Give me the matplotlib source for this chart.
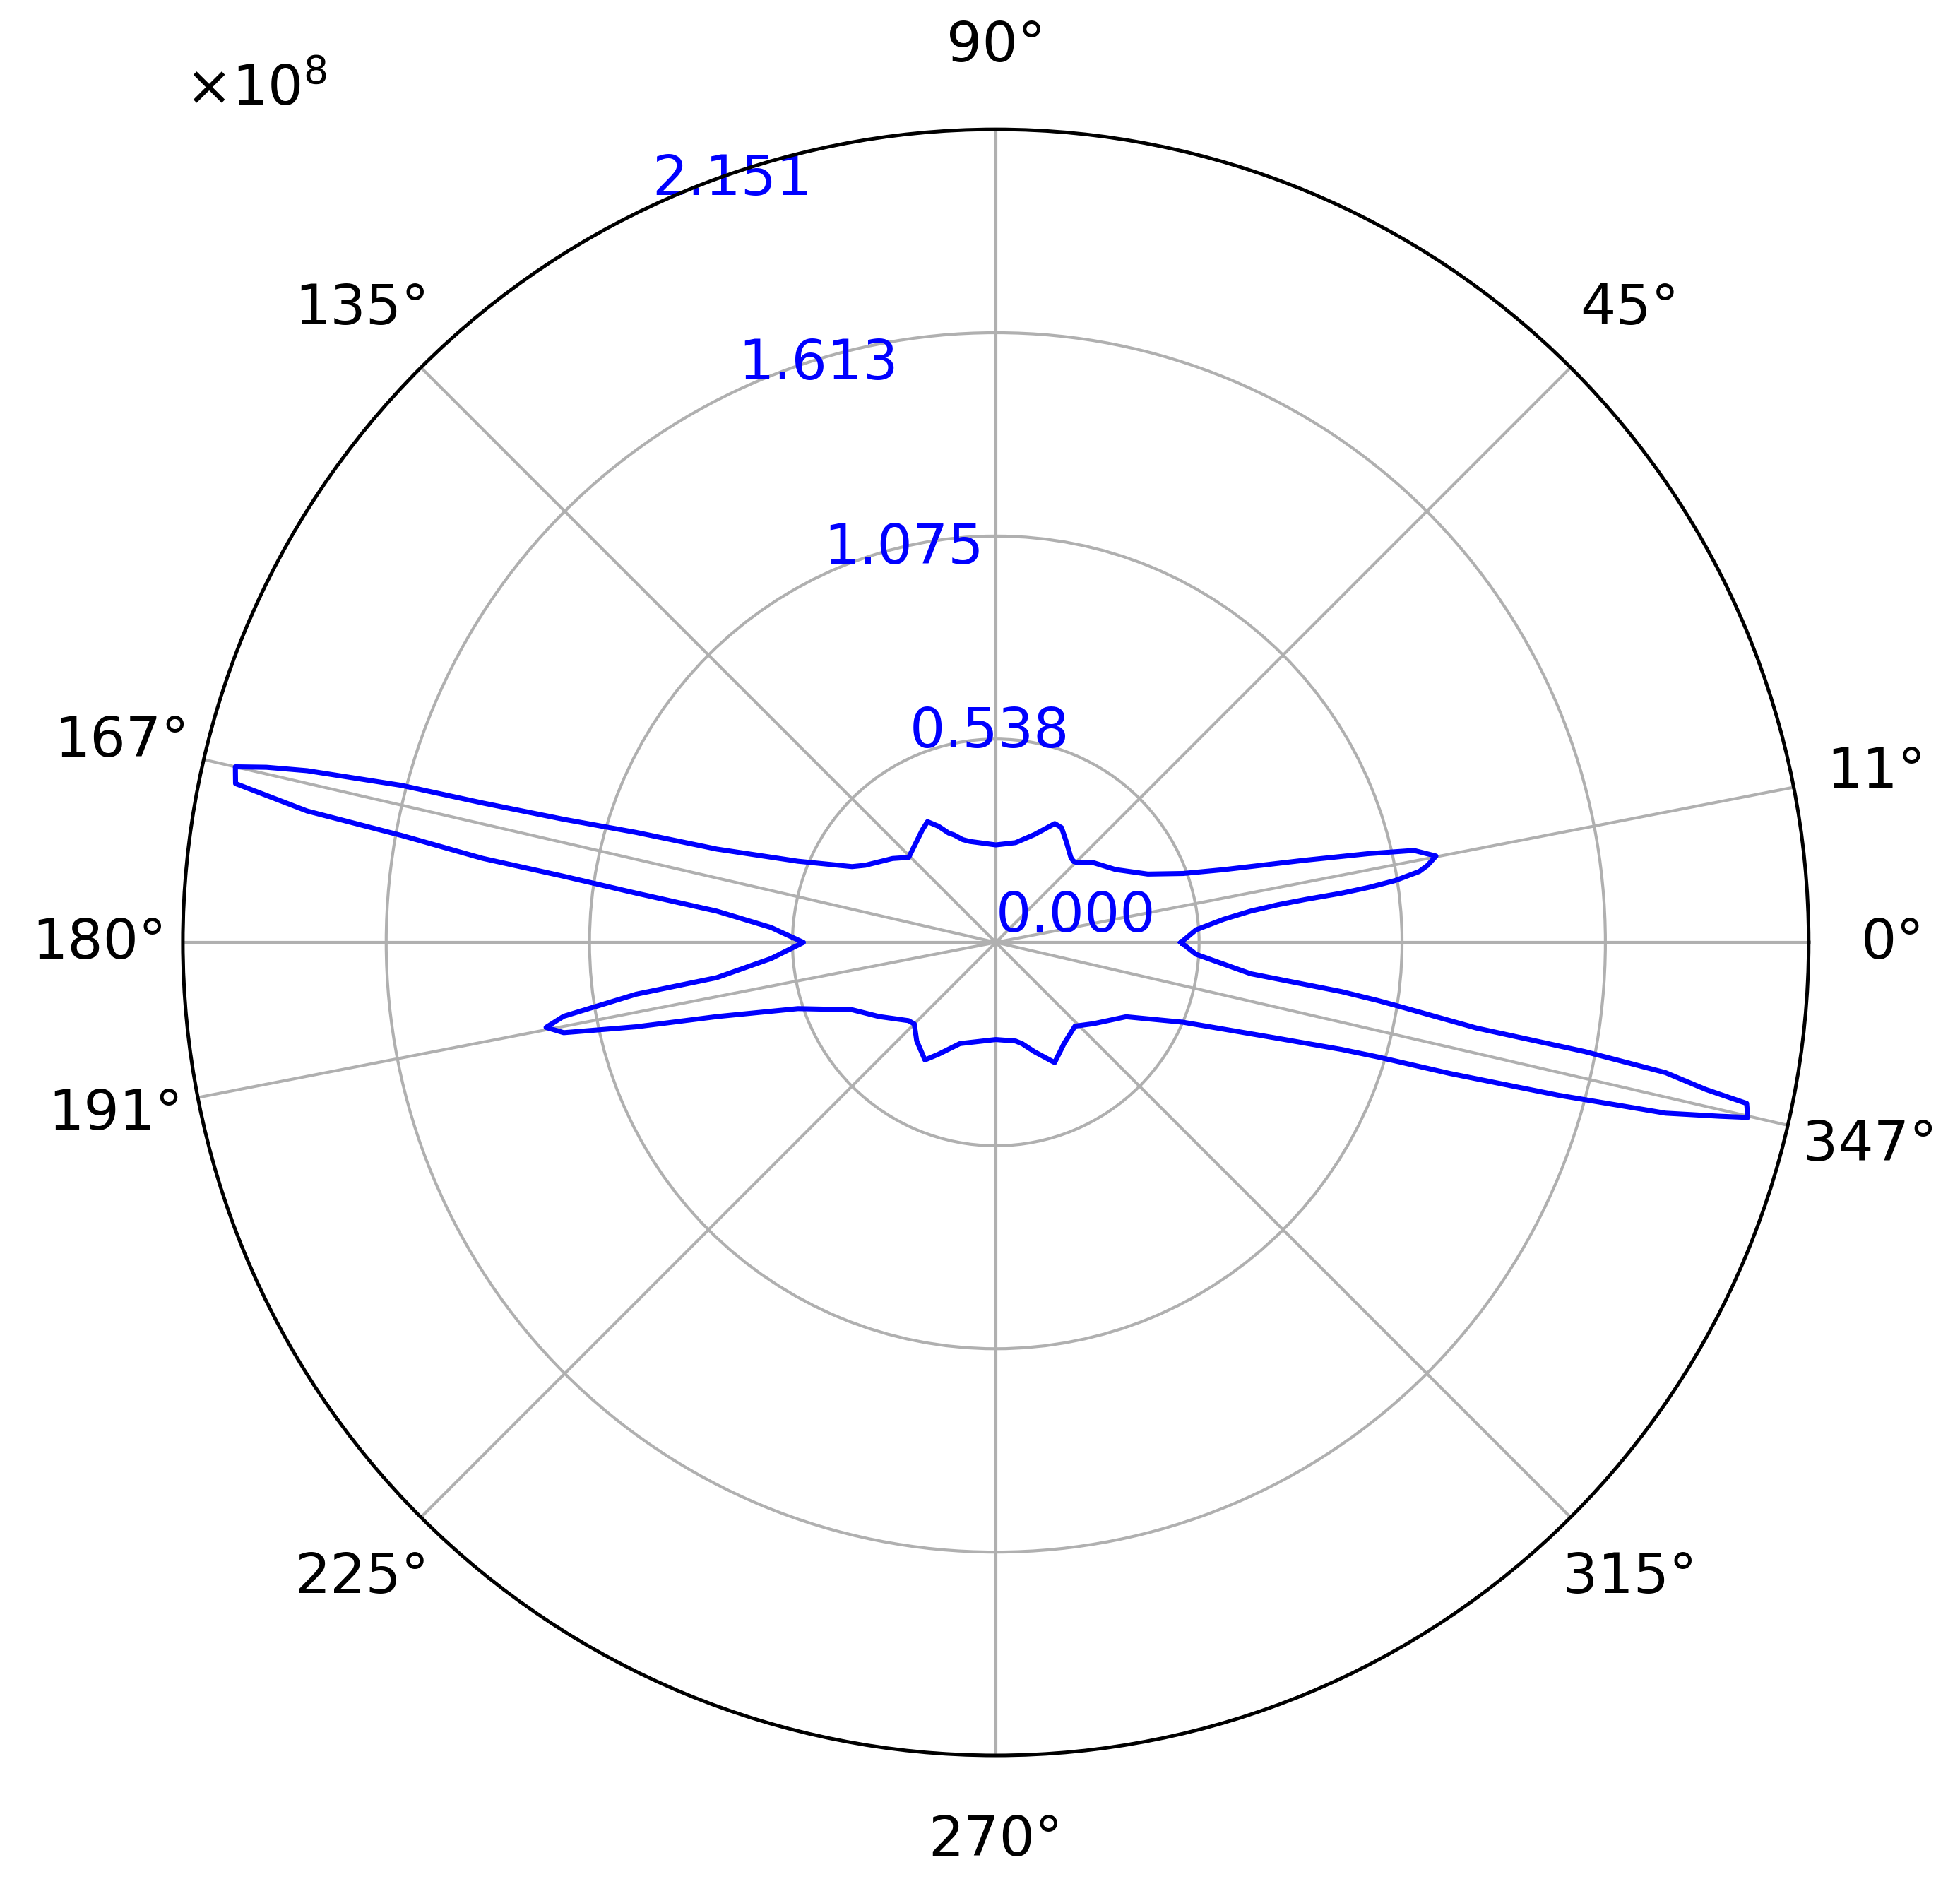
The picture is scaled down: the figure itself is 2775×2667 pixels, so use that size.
import numpy as np
import matplotlib
matplotlib.use('Agg')
import matplotlib.pyplot as plt

# polar curve: angle in degrees, radius in units of 1e8
theta_deg = [0.0, 3.6, 5.8, 7.0, 7.6, 7.9, 8.1, 8.4, 8.8, 9.5, 10.1, 11.1, 12.4, 13.4,
             14.9, 17.7, 20.2, 24.2, 31.3, 39.1, 45.0, 46.1, 48.5, 54.7, 60.2, 63.6,
             70.3, 78.8, 90.0, 104.5, 107.9, 111.2, 113.3, 116.3, 119.5, 123.3, 127.9,
             135.7, 140.9, 149.4, 152.2, 157.7, 161.5, 163.0, 164.1, 164.8, 165.2,
             166.0, 166.5, 167.0, 168.2, 169.2, 169.8, 170.7, 171.3, 172.2, 173.6,
             176.2, 180.0, 184.1, 187.2, 188.2, 189.7, 190.7, 191.8, 193.2, 194.9,
             198.5, 205.1, 212.4, 221.9, 225.0, 231.2, 238.9, 242.8, 250.5, 270.0,
             281.3, 284.6, 289.5, 296.1, 304.0, 313.4, 320.4, 330.3, 336.9, 341.2,
             342.8, 343.3, 343.9, 344.8, 345.7, 346.5, 346.9, 347.9, 348.3, 349.0,
             349.5, 349.9, 351.06, 351.37, 351.9, 353.0, 356.6, 360.0]
radius = [0.490, 0.531, 0.606, 0.679, 0.753, 0.829, 0.924, 1.000, 1.069, 1.136, 1.160,
          1.187, 1.133, 1.013, 0.845, 0.633, 0.528, 0.441, 0.371, 0.334, 0.300, 0.297,
          0.300, 0.324, 0.350, 0.351, 0.303, 0.269, 0.258, 0.276, 0.286, 0.305, 0.315,
          0.343, 0.367, 0.355, 0.340, 0.322, 0.352, 0.401, 0.430, 0.566, 0.778, 0.996,
          1.189, 1.407, 1.626, 1.878, 1.985, 2.065, 2.055, 1.855, 1.597, 1.376, 1.157,
          0.961, 0.743, 0.596, 0.509, 0.596, 0.744, 0.962, 1.160, 1.211, 1.168, 0.978,
          0.763, 0.552, 0.420, 0.366, 0.310, 0.305, 0.334, 0.363, 0.333, 0.284, 0.257,
          0.266, 0.277, 0.307, 0.354, 0.323, 0.305, 0.337, 0.397, 0.538, 0.787, 0.958,
          1.053, 1.250, 1.541, 1.829, 1.970, 2.043, 2.032, 1.919, 1.805, 1.585, 1.292,
          1.070, 1.020, 0.924, 0.679, 0.531, 0.490]

r_max = 2.151
r_ticks = [0.000, 0.538, 1.075, 1.613, 2.151]
theta_ticks = [0, 11, 45, 90, 135, 167, 180, 191, 225, 270, 315, 347]

fig = plt.figure(figsize=(9.25, 8.8933), dpi=300)
ax = fig.add_axes([0.0933, 0.0682, 0.8295, 0.8628], projection='polar')

ax.plot(np.deg2rad(theta_deg), radius, color='blue', lw=1.7, solid_joinstyle='round')

ax.set_ylim(0, r_max)
ax.set_yticks(r_ticks)
ax.set_yticklabels([f'{v:.3f}' for v in r_ticks], color='blue', fontsize=19)
ax.set_rlabel_position(115)

ax.set_xticks(np.deg2rad(theta_ticks))
ax.set_xticklabels([f'{t}°' for t in theta_ticks], fontsize=19)
ax.tick_params(axis='x', pad=18)

ax.grid(True, color='#b0b0b0', lw=1.0)
ax.spines['polar'].set_linewidth(1.2)

fig.text(0.0944, 0.944, r'$\times10^{8}$', fontsize=19)

fig.savefig('out.png', dpi=300)
